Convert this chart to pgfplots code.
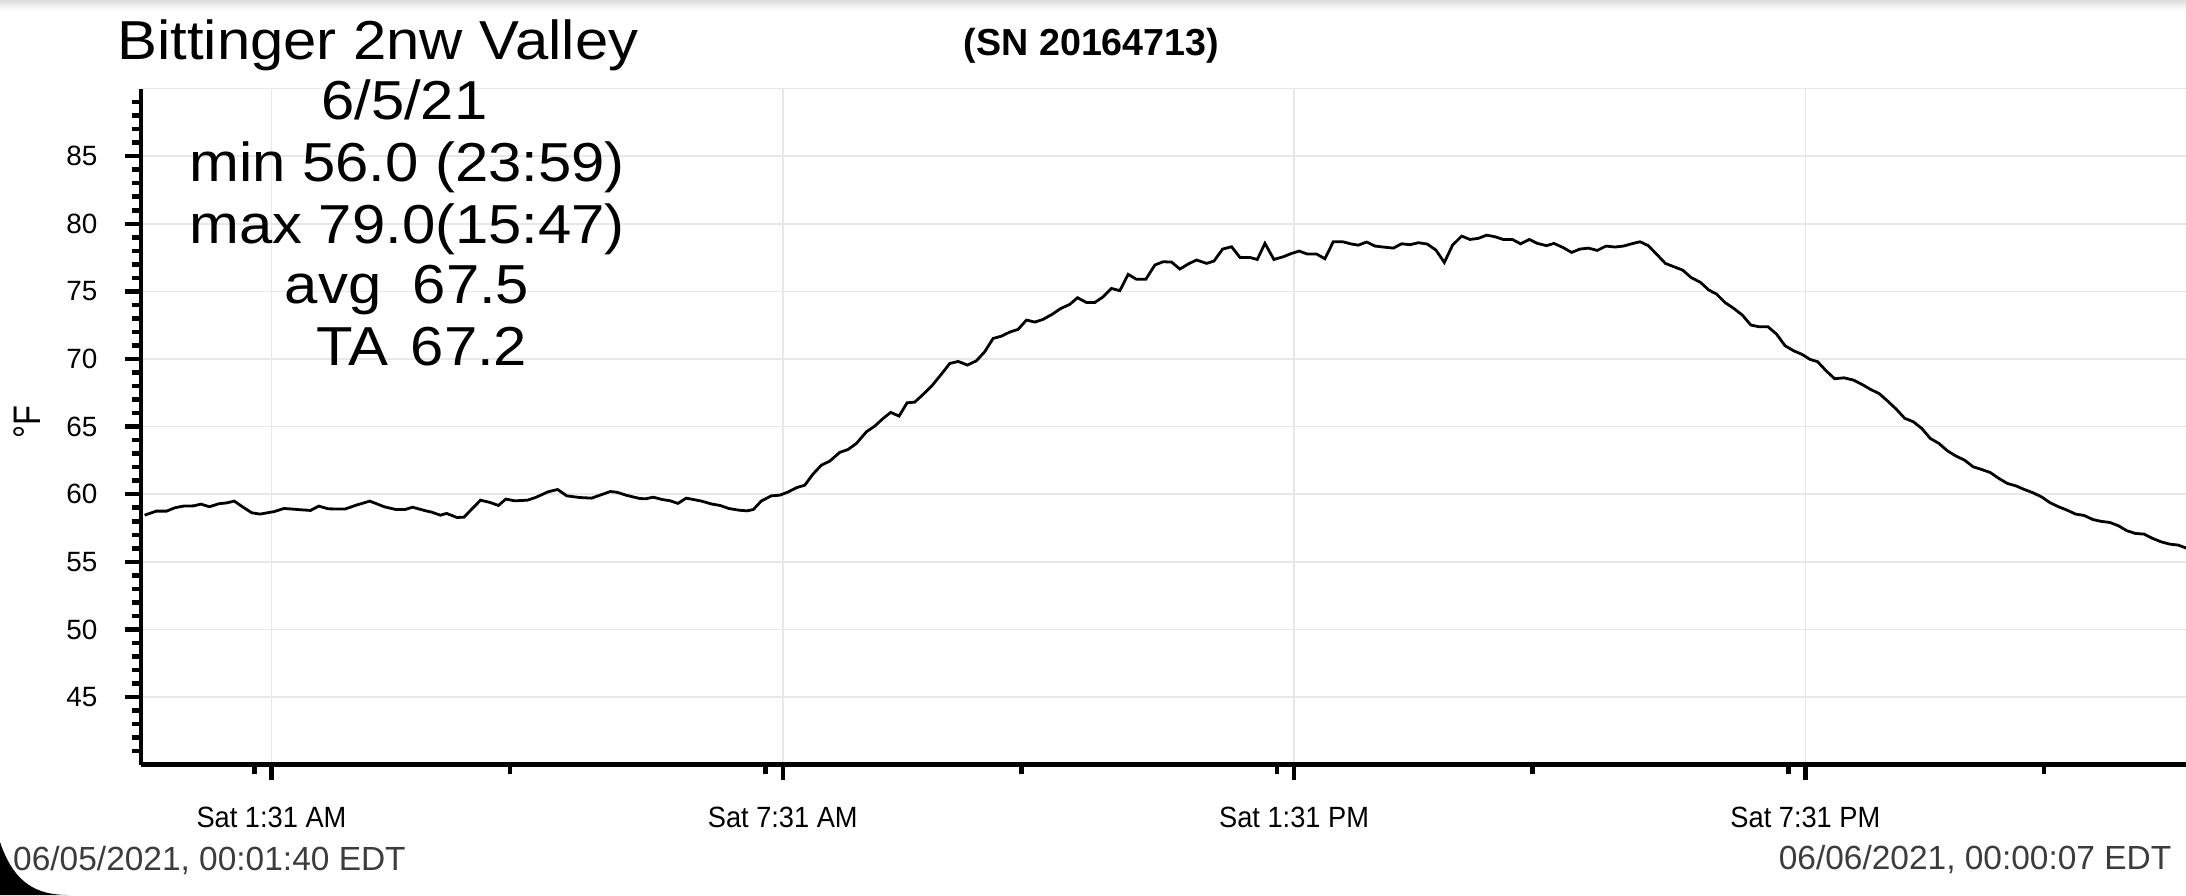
\documentclass[border=0pt]{standalone}
\usepackage{pgfplots}
\pgfplotsset{compat=1.18}
\usepackage{pgfplotstable}
\usepackage{fontspec}
\setmainfont{Liberation Sans}
\newfontfamily\bigfont[FakeStretch=1.09]{Liberation Sans}
\newfontfamily\condfont[FakeStretch=0.93]{Liberation Sans}
\newfontfamily\narrowfont[FakeStretch=0.85]{Liberation Sans}
\definecolor{gridc}{RGB}{232,232,232}
\definecolor{datec}{RGB}{60,60,60}
\pgfplotstableread{
t T
1.7 58.45
9.9 58.75
17.2 58.75
23 59.0
28.9 59.12
36.2 59.14
41.4 59.27
47.3 59.07
53.7 59.29
59.5 59.36
64.8 59.49
70.6 59.07
77 58.63
82.9 58.53
93.1 58.72
99.8 58.95
109.1 58.87
118.5 58.8
124.3 59.12
131 58.92
142.7 58.9
150 59.17
160.2 59.49
170.5 59.07
178.6 58.87
185.1 58.87
190.3 59.04
199.7 58.77
204 58.67
209.9 58.45
214.3 58.58
221.6 58.28
226.5 58.3
231.8 58.87
238.2 59.56
244.9 59.39
250.8 59.17
256 59.64
262.4 59.51
271.2 59.56
277 59.76
285.8 60.18
292.5 60.35
298.9 59.88
307.7 59.76
316.4 59.71
322.3 59.93
329.6 60.2
334 60.15
341.3 59.91
350 59.69
354.4 59.66
359.7 59.78
366.1 59.61
371.9 59.51
377.2 59.32
383 59.71
393.8 59.49
401.1 59.27
406.9 59.17
412.8 58.95
420.1 58.82
425.9 58.77
430.3 58.87
436 59.51
443 59.88
448.9 59.93
454.7 60.16
460.6 60.48
466.5 60.67
472.3 61.49
478.2 62.15
484.1 62.45
491.1 63.09
497 63.31
502.9 63.76
509.9 64.62
515.8 65.04
521.6 65.6
527 66.05
532.9 65.78
538.5 66.76
543.9 66.81
549.8 67.38
556.4 68.07
562.7 68.88
568.6 69.67
574.5 69.82
581 69.55
587.4 69.87
593.2 70.54
599.1 71.52
605 71.69
610.8 71.99
616.7 72.19
622.6 72.88
628.5 72.73
634.3 72.93
640.9 73.32
646.5 73.72
653.1 74.04
658.5 74.53
664.8 74.18
670.7 74.18
676.6 74.6
682.4 75.22
688.3 75.05
694.2 76.26
700.1 75.89
706.6 75.89
713 76.95
718.8 77.19
724.7 77.17
730.6 76.65
736.4 77.02
742.3 77.32
749.4 77.07
754.6 77.24
760.7 78.13
767 78.3
772.9 77.51
779.9 77.51
785.1 77.36
790.5 78.55
796.8 77.36
803.4 77.56
809.3 77.81
814.7 77.98
820.3 77.76
826.9 77.76
832.7 77.41
838.6 78.67
845.2 78.67
851.5 78.5
856.2 78.42
862.1 78.65
868 78.35
873.8 78.28
880.9 78.2
886.7 78.52
892.6 78.45
898.5 78.6
904.8 78.5
910.9 78.05
916.8 77.14
922.6 78.42
929 79.09
934.8 78.84
940.7 78.92
946.6 79.16
952.5 79.04
958.3 78.84
964.7 78.84
970.5 78.52
976.6 78.84
982.3 78.55
988.8 78.38
994 78.55
1000.6 78.23
1006.4 77.88
1012.3 78.13
1018.2 78.2
1024.5 78.03
1030.6 78.35
1037 78.28
1042.8 78.35
1048.7 78.52
1054.6 78.67
1060.4 78.38
1066.9 77.68
1072.4 77.07
1078.5 76.82
1084.5 76.58
1090.5 76.03
1097.2 75.66
1103 75.1
1108.5 74.8
1114.6 74.16
1120.6 73.74
1126.6 73.25
1132.6 72.51
1138.6 72.38
1144.7 72.38
1150.7 71.84
1156.7 70.98
1162.7 70.61
1168.7 70.34
1174.3 69.97
1179.6 69.8
1185.6 69.13
1191.6 68.54
1198.3 68.61
1204.8 68.44
1210.9 68.12
1216.9 67.75
1222.9 67.45
1228.9 66.89
1234.9 66.3
1241 65.61
1247 65.36
1253 64.86
1259 64.12
1265 63.76
1271 63.21
1277.1 62.82
1283.1 62.52
1289.1 62.03
1295.1 61.83
1301.1 61.61
1307.2 61.17
1313.2 60.8
1319.2 60.62
1325.2 60.35
1331.2 60.11
1337.2 59.81
1343.3 59.37
1349.3 59.07
1355.3 58.82
1361.3 58.53
1367.3 58.43
1373.4 58.13
1379.4 57.99
1385.4 57.91
1391.4 57.67
1397.4 57.3
1403.4 57.1
1409.5 57.05
1415.5 56.73
1421.5 56.48
1427.5 56.31
1433.5 56.24
1440.1 55.98
}\temps
\begin{document}
\begin{tikzpicture}
\path[use as bounding box] (-40.4pt,-37.4pt) rectangle (586.8pt,219.4pt);
\shade[top color=black!13, bottom color=white] (-40.4pt,216.4pt) rectangle (586.8pt,219.4pt);
\begin{axis}[
  at={(0pt,0pt)}, anchor=south west,
  scale only axis, width=586.8pt, height=194pt,
  xmin=-1, xmax=1439, ymin=40, ymax=90,
  axis x line*=bottom, axis y line*=left,
  axis line style={line width=1.3pt},
  tick align=outside,
  major tick length=4.5pt, minor tick length=2.6pt,
  tick style={line width=1.3pt, black},
  xtick={91,451,811,1171},
  xticklabels={Sat 1:31 AM, Sat 7:31 AM, Sat 1:31 PM, Sat 7:31 PM},
  minor xtick={79,259,439,619,799,979,1159,1339},
  ytick={45,50,...,85},
  minor ytick={41,42,...,89},
  extra y ticks={90}, extra y tick labels={},
  extra y tick style={grid=major, major tick length=0pt},
  xmajorgrids, ymajorgrids,
  major grid style={draw=gridc, line width=0.5pt},
  /pgf/number format/assume math mode=true,
  xticklabel style={font=\condfont\fontsize{8.4}{9}\selectfont, anchor=base, yshift=-13.4pt},
  yticklabel style={font=\fontsize{8}{9}\selectfont, anchor=east, xshift=-4.4pt},
  clip=true,
]
\addplot[black, line width=0.8pt] table[x=t, y=T] {\temps};
\end{axis}
\node[font=\bigfont\fontsize{15.75}{17}\selectfont, anchor=base] at (68pt,202.4pt) {Bittinger 2nw Valley};
\node[font=\bigfont\fontsize{15.75}{17}\selectfont, anchor=base] at (75.6pt,185pt) {6/5/21};
\node[font=\bigfont\fontsize{15.75}{17}\selectfont, anchor=base] at (76.4pt,167.4pt) {min 56.0 (23:59)};
\node[font=\bigfont\fontsize{15.75}{17}\selectfont, anchor=base] at (76.4pt,149.6pt) {max 79.0(15:47)};
\node[font=\bigfont\fontsize{15.75}{17}\selectfont, anchor=base] at (76.4pt,132.2pt) {avg\hspace{9pt}67.5};
\node[font=\bigfont\fontsize{15.75}{17}\selectfont, anchor=base] at (80.6pt,114.6pt) {TA\hspace{6.5pt}67.2};
\node[font=\bfseries\fontsize{10.8}{12}\selectfont, anchor=base] at (272.8pt,203.6pt) {(SN 20164713)};
\node[font=\narrowfont\fontsize{11}{12}\selectfont, rotate=90, anchor=base, inner sep=0pt] at (-28.7pt,98.3pt) {°F};
\node[font=\fontsize{9.6}{11}\selectfont, text=datec, anchor=base west, inner sep=0pt] at (-36.8pt,-30.4pt) {06/05/2021, 00:01:40 EDT};
\node[font=\fontsize{9.6}{11}\selectfont, text=datec, anchor=base east, inner sep=0pt] at (582.8pt,-30.2pt) {06/06/2021, 00:00:07 EDT};
\fill[black] (-40.4pt,-22.2pt) .. controls (-36.4pt,-34pt) and (-30pt,-37.4pt) .. (-20.8pt,-37.4pt) -- (-40.4pt,-37.4pt) -- cycle;
\end{tikzpicture}
\end{document}
